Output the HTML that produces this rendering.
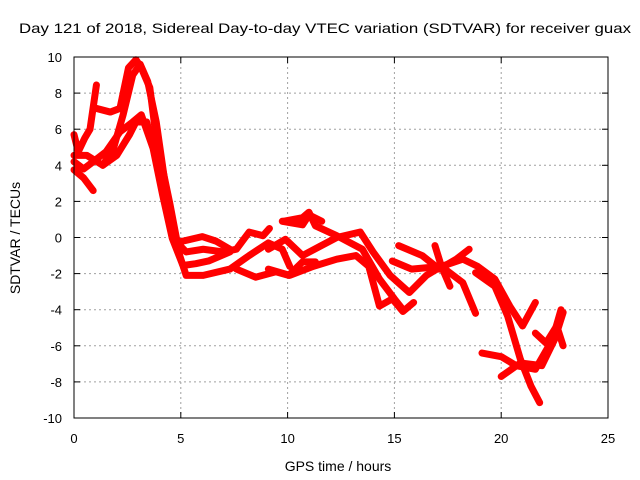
<!DOCTYPE html>
<html><head><meta charset="utf-8"><style>
body{margin:0;background:#fff}
svg{display:block;font-family:"Liberation Sans",sans-serif}
</style></head><body>
<svg id="chart" width="640" height="480">
<text x="325" y="33" text-anchor="middle" font-size="14" textLength="612" lengthAdjust="spacingAndGlyphs">Day 121 of 2018, Sidereal Day-to-day VTEC variation (SDTVAR) for receiver guax</text>
<text x="338" y="471" text-anchor="middle" font-size="14">GPS time / hours</text>
<text transform="translate(20,238) rotate(-90)" text-anchor="middle" font-size="14">SDTVAR / TECUs</text>
<g id="grid"></g><g id="ticks"></g><g id="series"></g>
<rect x="74" y="57" width="534" height="361" fill="none" stroke="#000" stroke-width="1"/>
</svg>
<script>
const xTicks=[0,5,10,15,20,25];
const yTicks=[-10,-8,-6,-4,-2,0,2,4,6,8,10];
const L1=[[0,3.75],[0.45,3.3],[0.9,2.6]];
const L2=[[0,5.7],[0.2,4.75],[0.5,5.5],[0.75,6],[1.05,8.45]];
const L3=[[0,4.2],[0.45,3.8],[0.9,4.2],[1.5,4.75],[2.15,5.85],[2.75,6.4],[3.15,6.8],[3.7,4.95],[4.15,2.35],[4.6,-0.05],[5.1,-1.55],[5.7,-1.45],[6.3,-1.3],[7.3,-0.8]];
const L4=[[0,4.55],[0.6,4.55],[1.35,4],[2,4.55],[2.6,5.7],[2.9,6.4],[3.4,6.4],[3.85,4.55],[4.3,2],[4.7,-0.3],[5.1,-0.2],[6,0.05],[6.65,-0.2],[7.3,-0.65]];
const L5=[[1.05,7.15],[1.7,6.95],[2.15,7.15],[2.55,9.4],[2.9,9.85],[3.15,9.4],[3.55,8.3],[3.85,5.5],[4.5,1.8],[4.95,-1],[5.25,-2.1],[6.05,-2.1],[7.3,-1.75],[8.2,-1],[9.1,-0.3],[9.75,-0.65],[10.1,-1.6]];
const L6=[[1.35,4],[1.85,4.95],[2.3,6.8],[2.75,9],[3.1,9.6],[3.45,8.65],[3.85,6.4],[4.3,2.7],[4.8,-0.25],[5.25,-0.8],[6.05,-0.65],[7,-0.8],[7.6,-0.65],[8.2,0.3],[8.85,0.1],[9.15,0.5]];
const L7=[[7.6,-1.75],[8.5,-2.2],[9.45,-1.9],[10.05,-2.1],[10.7,-1.35],[11.3,-1.35]];
const L8=[[9.75,0.9],[10.7,0.7],[11,1.25],[11.6,0.9]];
const A=[[9.1,-1.75],[10.1,-2.1],[11.2,-1.6],[12.3,-1.2],[13.2,-1],[13.8,-1.6],[14.3,-3.8],[14.9,-3.4],[15.4,-4.1],[15.9,-3.6]];
const B=[[9.1,-0.65],[9.9,-0.1],[10.7,-1],[11.5,-0.5],[12.3,0],[13.4,0.3],[14,-0.8],[14.8,-2.1],[15.7,-3.05],[16.5,-2.1],[17.2,-1.6],[18.2,-1.2],[18.9,-1.6],[19.7,-2.3],[20.4,-3.8],[21,-4.9],[21.6,-3.6]];
const C=[[9.8,0.9],[10.7,1.1],[11,1.4],[11.3,0.65],[12.3,0.1],[13.5,-0.65],[14.3,-2.3],[15,-3.4],[15.4,-4]];
const D=[[14.9,-1.3],[15.8,-1.75],[17.2,-1.6],[18.2,-2.5],[18.8,-4.2]];
const E=[[15.2,-0.45],[16.3,-1],[17.1,-1.75],[17.9,-1.2],[18.5,-0.65]];
const F=[[16.9,-0.45],[17.2,-1.6],[17.6,-2.7]];
const G=[[19.1,-6.4],[20,-6.6],[20.7,-7.1],[21.6,-7.3],[22.4,-5.65],[22.8,-4]];
const H=[[18.8,-1.95],[19.7,-2.7],[20.3,-4.35],[20.9,-6.75],[21.4,-8.25],[21.8,-9.15]];
const I=[[20,-7.7],[20.9,-6.95],[21.9,-7.1],[22.5,-5.65],[22.9,-4.15]];
const J=[[21.6,-5.3],[22.1,-5.85],[22.6,-4.9],[22.9,-6]];
const tracks=[L1,L2,L3,L4,L5,L6,L7,L8,A,B,C,D,E,F,G,H,I,J];

const NS="http://www.w3.org/2000/svg";
const X0=74,X1=608,Y0=418,Y1=57;
const xs=h=>X0+(h-0)/25*(X1-X0);
const ys=v=>Y0-(v+10)/20*(Y0-Y1);
function mk(tag,attrs,parent){const e=document.createElementNS(NS,tag);for(const k in attrs)e.setAttribute(k,attrs[k]);parent.appendChild(e);return e;}
const grid=document.getElementById('grid'),ticks=document.getElementById('ticks'),ser=document.getElementById('series');
xTicks.forEach(t=>{
  const x=xs(t);
  if(t>0&&t<25){const g=mk('line',{x1:x,x2:x,y1:Y1,y2:Y0,stroke:'#a0a0a0','stroke-dasharray':'2,3'},grid);
  
  }
  const tk=mk('line',{x1:x,x2:x,y1:Y0,y2:Y0-6,stroke:'#000'},ticks);
  
  
  const tk2=mk('line',{x1:x,x2:x,y1:Y1,y2:Y1+6,stroke:'#000'},ticks);
  
  
  const l=mk('text',{x:x,y:443,'text-anchor':'middle','font-size':13},ticks);l.textContent=t;
  
  
});
yTicks.forEach(t=>{
  const y=ys(t);
  if(t>-10&&t<10){const g=mk('line',{x1:X0,x2:X1,y1:y,y2:y,stroke:'#a0a0a0','stroke-dasharray':'2,3'},grid);
  
  }
  const tk=mk('line',{x1:X0,x2:X0+6,y1:y,y2:y,stroke:'#000'},ticks);
  
  
  const tk2=mk('line',{x1:X1,x2:X1-6,y1:y,y2:y,stroke:'#000'},ticks);
  
  
  const l=mk('text',{x:62,y:y+5,'text-anchor':'end','font-size':13},ticks);l.textContent=t;
  
  
});
tracks.forEach(tr=>{
  const p=mk('polyline',{points:tr.map(d=>xs(d[0])+','+ys(d[1])).join(' '),fill:'none',stroke:'#ff0000','stroke-width':7,'stroke-linejoin':'round','stroke-linecap':'round'},ser);
  
  
});
</script>
</body></html>
